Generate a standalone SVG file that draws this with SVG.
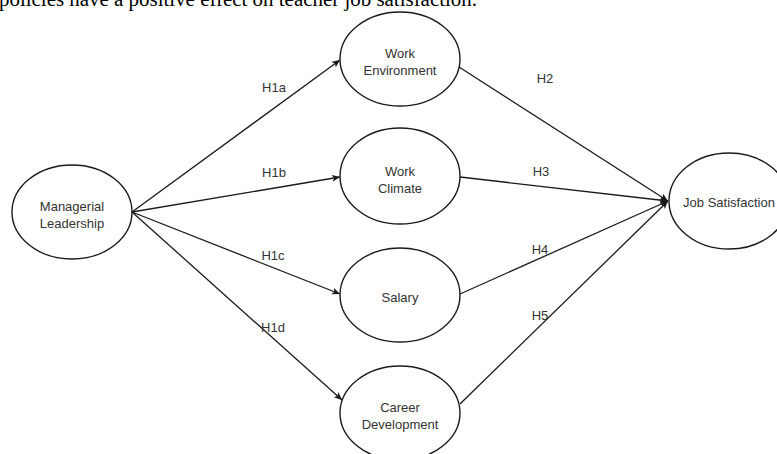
<svg xmlns="http://www.w3.org/2000/svg" width="777" height="454" viewBox="0 0 777 454">
<style>
.node ellipse{fill:#fff;stroke:#1a1a1a;stroke-width:1.4}
.node text{font-family:"Liberation Sans",Arial,sans-serif;font-size:13px;fill:#333;text-anchor:middle}
.lbl{font-family:"Liberation Sans",Arial,sans-serif;font-size:13px;fill:#333;text-anchor:middle}
.edge{stroke:#1a1a1a;stroke-width:1.3;fill:none;marker-end:url(#arr)}
</style>
<defs>
<marker id="arr" markerUnits="userSpaceOnUse" markerWidth="9" markerHeight="8" refX="8" refY="3.5" orient="auto">
<path d="M0,0 L8,3.5 L0,7 L2,3.5 z" fill="#1a1a1a"/>
</marker>
</defs>
<rect width="777" height="454" fill="#fff"/>
<text x="-1" y="6" font-family="'Liberation Serif','Times New Roman',serif" font-size="20" fill="#000" textLength="478" lengthAdjust="spacingAndGlyphs">policies have a positive effect on teacher job satisfaction.</text>
<g id="connectors">
<line class="edge" x1="132" y1="212" x2="340" y2="60"/>
<line class="edge" x1="132" y1="212" x2="340" y2="177"/>
<line class="edge" x1="132" y1="212" x2="340" y2="294"/>
<line class="edge" x1="132" y1="212" x2="342" y2="400"/>
<line class="edge" x1="459" y1="67" x2="668" y2="201"/>
<line class="edge" x1="460" y1="177" x2="668" y2="201"/>
<line class="edge" x1="460" y1="294" x2="668" y2="201"/>
<line class="edge" x1="460" y1="404" x2="668" y2="201"/>
<text class="lbl" x="274" y="92">H1a</text>
<text class="lbl" x="274" y="177">H1b</text>
<text class="lbl" x="273" y="260">H1c</text>
<text class="lbl" x="273" y="332">H1d</text>
<text class="lbl" x="545" y="83">H2</text>
<text class="lbl" x="541" y="176">H3</text>
<text class="lbl" x="540" y="254">H4</text>
<text class="lbl" x="540" y="320">H5</text>
</g>
<g id="managerial-leadership" class="node">
<ellipse cx="72" cy="212" rx="60" ry="47"/>
<text x="72" y="211">Managerial</text>
<text x="72" y="228">Leadership</text>
</g>
<g id="work-environment" class="node">
<ellipse cx="400" cy="59" rx="60" ry="47"/>
<text x="400" y="58">Work</text>
<text x="400" y="75">Environment</text>
</g>
<g id="work-climate" class="node">
<ellipse cx="400" cy="176" rx="60" ry="48"/>
<text x="400" y="176">Work</text>
<text x="400" y="193">Climate</text>
</g>
<g id="salary" class="node">
<ellipse cx="400" cy="295" rx="60" ry="47"/>
<text x="400" y="302">Salary</text>
</g>
<g id="career-development" class="node">
<ellipse cx="400" cy="413" rx="60" ry="47"/>
<text x="400" y="412">Career</text>
<text x="400" y="429">Development</text>
</g>
<g id="job-satisfaction" class="node">
<ellipse cx="729" cy="201" rx="60" ry="48"/>
<text x="729" y="207">Job Satisfaction</text>
</g>
</svg>
